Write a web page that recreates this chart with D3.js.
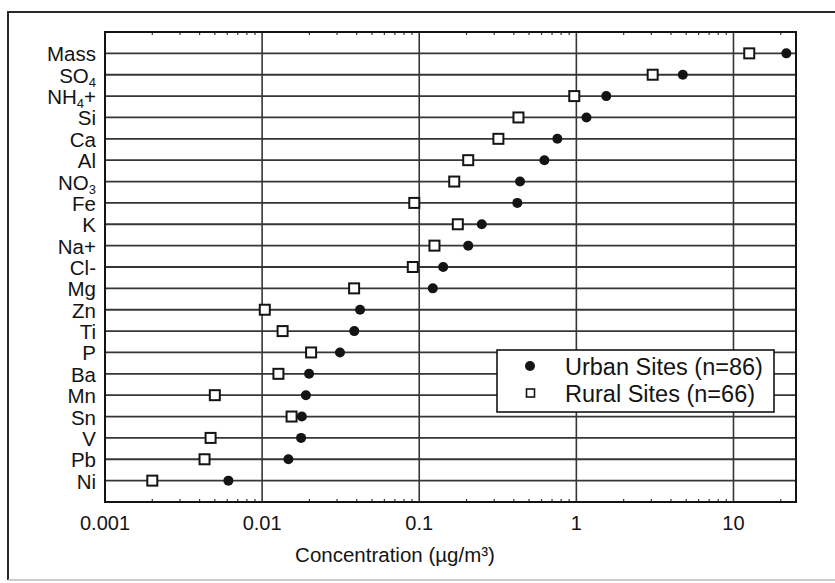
<!DOCTYPE html>
<html>
<head>
<meta charset="utf-8">
<script src="https://cdn.jsdelivr.net/npm/d3@7"></script>
<style>
  body { margin: 0; background: #fff; }
  svg { display: block; font-family: "Liberation Sans", Arial, sans-serif; }
</style>
</head>
<body>
<svg id="chart"></svg>
<script>
// species, top to bottom (digit after letters is drawn as a subscript)
const species = ["Mass", "SO4", "NH4+", "Si", "Ca", "Al", "NO3", "Fe", "K", "Na+", "Cl-",
  "Mg", "Zn", "Ti", "P", "Ba", "Mn", "Sn", "V", "Pb", "Ni"];

// mean concentrations (µg/m³)
const urbanValues = [21.7, 4.76, 1.55, 1.16, 0.757, 0.626, 0.438, 0.421, 0.250, 0.205, 0.142,
  0.122, 0.042, 0.0386, 0.0313, 0.0199, 0.0190, 0.0179, 0.0177, 0.0147, 0.0061];
const ruralValues = [12.6, 3.06, 0.97, 0.428, 0.319, 0.205, 0.167, 0.093, 0.176, 0.125, 0.091,
  0.0385, 0.0104, 0.0135, 0.0205, 0.0127, 0.0050, 0.0154, 0.0047, 0.0043, 0.0020];

const xTicks = [0.001, 0.01, 0.1, 1, 10];
const xTickLabels = ["0.001", "0.01", "0.1", "1", "10"];
const legendLabels = ["Urban Sites (n=86)", "Rural Sites (n=66)"];

const W = 835, H = 583;
const plot = { left: 105, right: 796, top: 32, bottom: 502 };
const INK = "#141414", GRID = "#363636";

const svg = d3.select("#chart").attr("width", W).attr("height", H);

//outer frame (right edge runs off the page)
svg.append("rect").attr("width", W).attr("height", H).attr("fill", "#fff");
svg.append("path")
  .attr("d", `M${W},12 H8 V580`)
  .attr("fill", "none").attr("stroke", "#2a2a2a").attr("stroke-width", 2);
svg.append("line")
  .attr("x1", 8).attr("x2", W).attr("y1", 580).attr("y2", 580)
  .attr("stroke", "#bbb").attr("stroke-width", 1.5);

const x = d3.scaleLog().domain([0.001, 25]).range([plot.left, plot.right]);
const y = d3.scalePoint().domain(species).range([plot.top, plot.bottom]).padding(1);

const g = svg.append("g");

//row lines
g.selectAll(".row").data(species).enter().append("line")
  .attr("x1", plot.left).attr("x2", plot.right)
  .attr("y1", d => y(d)).attr("y2", d => y(d))
  .attr("stroke", GRID).attr("stroke-width", 1.8);

//decade lines
g.selectAll(".dec").data(xTicks).enter().append("line")
  .attr("x1", d => x(d)).attr("x2", d => x(d))
  .attr("y1", plot.top).attr("y2", plot.bottom)
  .attr("stroke", GRID).attr("stroke-width", 1.6);

//minor ticks on top and bottom edges
const minor = [];
for (let e = -3; e <= 1; e++) {
  for (let m = 2; m <= 9; m++) {
    const v = m * Math.pow(10, e);
    if (v < 25) minor.push(v);
  }
}
g.selectAll(".mt").data(minor).enter().append("line")
  .attr("x1", d => x(d)).attr("x2", d => x(d))
  .attr("y1", plot.top).attr("y2", plot.top + 3)
  .attr("stroke", GRID).attr("stroke-width", 1.2);
g.selectAll(".mb").data(minor).enter().append("line")
  .attr("x1", d => x(d)).attr("x2", d => x(d))
  .attr("y1", plot.bottom).attr("y2", plot.bottom - 3)
  .attr("stroke", GRID).attr("stroke-width", 1.2);

//plot border
g.append("rect")
  .attr("x", plot.left).attr("y", plot.top)
  .attr("width", plot.right - plot.left).attr("height", plot.bottom - plot.top)
  .attr("fill", "none").attr("stroke", INK).attr("stroke-width", 2);

//x tick labels
svg.selectAll(".xl").data(xTicks).enter().append("text")
  .attr("x", d => x(d)).attr("y", 530)
  .attr("text-anchor", "middle").attr("font-size", 20).attr("fill", INK)
  .text((d, i) => xTickLabels[i]);

svg.append("text")
  .attr("x", 395).attr("y", 562)
  .attr("text-anchor", "middle").attr("font-size", 20.5).attr("fill", INK)
  .text("Concentration (µg/m³)");

//y labels with subscripts
const ylab = svg.selectAll(".yl").data(species).enter().append("text")
  .attr("x", 96).attr("y", d => y(d) + 8)
  .attr("text-anchor", "end").attr("font-size", 20.5).attr("fill", INK);
ylab.each(function(d) {
  const t = d3.select(this);
  const m = d.match(/^([A-Za-z]+)(\d)(.*)$/);
  if (!m) { t.text(d); return; }
  t.append("tspan").text(m[1]);
  t.append("tspan").attr("font-size", 13).attr("dy", 4).text(m[2]);
  if (m[3]) t.append("tspan").attr("dy", -4).text(m[3]);
});

//points
const pts = svg.append("g");
pts.selectAll(".rural").data(species).enter().append("rect")
  .attr("x", (d, i) => x(ruralValues[i]) - 5)
  .attr("y", d => y(d) - 5)
  .attr("width", 10).attr("height", 10)
  .attr("fill", "#fff").attr("stroke", INK).attr("stroke-width", 2);
pts.selectAll(".urban").data(species).enter().append("circle")
  .attr("cx", (d, i) => x(urbanValues[i]))
  .attr("cy", d => y(d))
  .attr("r", 5).attr("fill", INK);

//legend
const leg = svg.append("g");
leg.append("rect")
  .attr("x", 497).attr("y", 350).attr("width", 277).attr("height", 62)
  .attr("fill", "#fff").attr("stroke", INK).attr("stroke-width", 1.6);
leg.append("circle").attr("cx", 530).attr("cy", 366).attr("r", 5).attr("fill", INK);
leg.append("rect").attr("x", 526.5).attr("y", 389).attr("width", 8).attr("height", 8)
  .attr("fill", "#fff").attr("stroke", INK).attr("stroke-width", 1.6);
leg.selectAll(".lt").data(legendLabels).enter().append("text")
  .attr("x", 565).attr("y", (d, i) => 375 + i * 27)
  .attr("font-size", 23.5).attr("fill", INK)
  .text(d => d);
</script>
</body>
</html>
